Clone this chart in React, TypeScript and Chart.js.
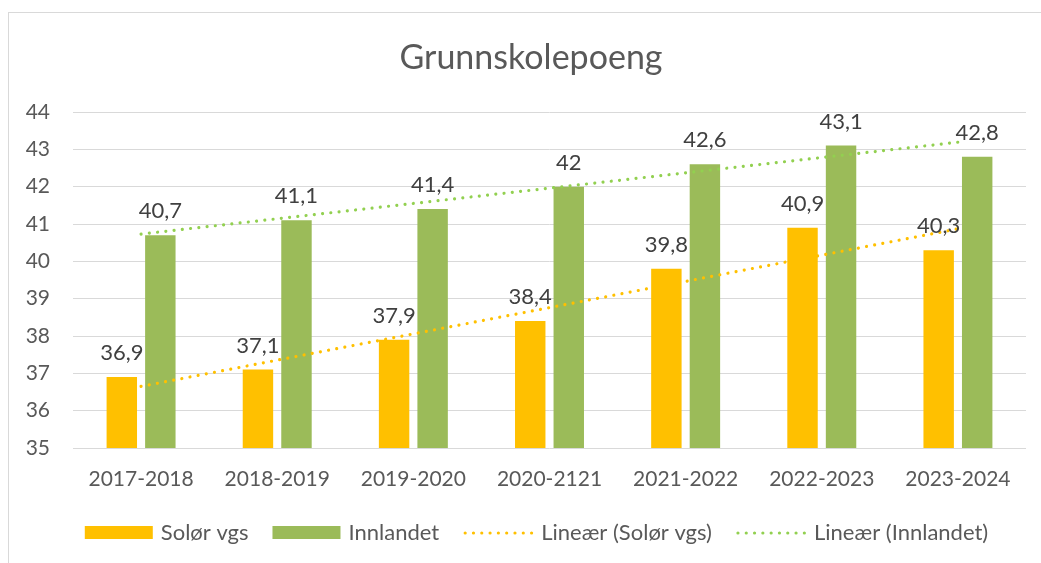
import { useEffect, useRef } from 'react';
import { Chart, registerables } from 'chart.js';

Chart.register(...registerables);

const chartTitle = 'Grunnskolepoeng';
const categories = ['2017-2018', '2018-2019', '2019-2020', '2020-2121', '2021-2022', '2022-2023', '2023-2024'];
const solorValues = [36.9, 37.1, 37.9, 38.4, 39.8, 40.9, 40.3];
const innlandetValues = [40.7, 41.1, 41.4, 42, 42.6, 43.1, 42.8];
// linear trend lines (start and end values)
const solorTrend = [36.65, null, null, null, null, null, 40.87];
const innlandetTrend = [40.73, null, null, null, null, null, 43.19];
const seriesNames = ['Solør vgs', 'Innlandet', 'Lineær (Solør vgs)', 'Lineær (Innlandet)'];
const yMin = 35;
const yMax = 44;

const YELLOW = '#FFC000';
const GREEN = '#9BBB59';
const TREND_YELLOW = '#FFC000';
const TREND_GREEN = '#92D050';
const TEXT = '#595959';
const LABEL = '#404040';
const FONT = 'Lato';
const DOT_DASH = [0.001, 8.3];

const framePlugin = {
  id: 'frame',
  beforeDraw(chart: any) {
    const ctx = chart.ctx;
    ctx.save();
    ctx.fillStyle = '#FFFFFF';
    ctx.fillRect(0, 0, chart.width, chart.height);
    ctx.strokeStyle = '#D9D9D9';
    ctx.lineWidth = 1;
    ctx.strokeRect(8.5, 12.5, chart.width + 20, chart.height + 20);
    ctx.restore();
  },
  afterDraw(chart: any) {
    const ctx = chart.ctx;
    ctx.save();
    ctx.fillStyle = TEXT;
    ctx.font = `34px ${FONT}`;
    ctx.textAlign = 'center';
    ctx.textBaseline = 'alphabetic';
    ctx.fillText(chartTitle, 531, 69);
    ctx.restore();
  },
};

const dataLabelPlugin = {
  id: 'dataLabels',
  afterDatasetsDraw(chart: any) {
    const ctx = chart.ctx;
    ctx.save();
    ctx.font = `22px ${FONT}`;
    ctx.fillStyle = LABEL;
    ctx.textAlign = 'center';
    ctx.textBaseline = 'alphabetic';
    chart.data.datasets.forEach((ds: any, i: number) => {
      if (ds.type !== 'bar') return;
      const meta = chart.getDatasetMeta(i);
      meta.data.forEach((el: any, j: number) => {
        const v = ds.data[j];
        ctx.fillText(String(v).replace('.', ','), el.x, el.y - 17);
      });
    });
    ctx.restore();
  },
};

const legendPlugin = {
  id: 'customLegend',
  afterDraw(chart: any) {
    const ctx = chart.ctx;
    ctx.save();
    ctx.font = `22px ${FONT}`;
    ctx.textBaseline = 'alphabetic';
    ctx.textAlign = 'left';
    const datasets = chart.data.datasets;
    const boxW = 68;
    const lineW = 70;
    const gapAfterSymbol = 8;
    const gapBetween = 24;
    const items = datasets.map((ds: any) => {
      const symW = ds.type === 'bar' ? boxW : lineW;
      const tw = ctx.measureText(ds.label).width;
      return { ds, symW, tw, w: symW + gapAfterSymbol + tw };
    });
    const total = items.reduce((s: number, it: any) => s + it.w, 0) + gapBetween * (items.length - 1);
    let x = 536.5 - total / 2;
    const baseline = 540;
    items.forEach((it: any) => {
      if (it.ds.type === 'bar') {
        ctx.fillStyle = it.ds.backgroundColor;
        ctx.fillRect(x, 526, boxW, 13);
      } else {
        ctx.strokeStyle = it.ds.borderColor;
        ctx.lineWidth = it.ds.borderWidth;
        ctx.lineCap = 'round';
        ctx.setLineDash(DOT_DASH);
        ctx.beginPath();
        ctx.moveTo(x + 2, 533);
        ctx.lineTo(x + lineW, 533);
        ctx.stroke();
        ctx.setLineDash([]);
      }
      ctx.fillStyle = TEXT;
      ctx.fillText(it.ds.label, x + it.symW + gapAfterSymbol, baseline);
      x += it.w + gapBetween;
    });
    ctx.restore();
  },
};

export default function App() {
  const canvasRef = useRef<HTMLCanvasElement | null>(null);

  useEffect(() => {
    document.body.style.margin = '0';
    let chart: Chart | null = null;
    let cancelled = false;
    const make = () => {
      if (cancelled || !canvasRef.current) return;
      Chart.defaults.font.family = FONT;
      chart = new Chart(canvasRef.current, {
        type: 'bar',
        data: {
          labels: categories,
          datasets: [
            {
              type: 'bar',
              label: seriesNames[0],
              data: solorValues,
              backgroundColor: YELLOW,
              categoryPercentage: 0.566,
              barPercentage: 0.79,
              order: 1,
            } as any,
            {
              type: 'bar',
              label: seriesNames[1],
              data: innlandetValues,
              backgroundColor: GREEN,
              categoryPercentage: 0.566,
              barPercentage: 0.79,
              order: 1,
            } as any,
            {
              type: 'line',
              label: seriesNames[2],
              data: solorTrend,
              borderColor: TREND_YELLOW,
              backgroundColor: TREND_YELLOW,
              borderWidth: 3.2,
              borderDash: DOT_DASH,
              borderCapStyle: 'round',
              pointRadius: 0,
              spanGaps: true,
              fill: false,
              order: 0,
            } as any,
            {
              type: 'line',
              label: seriesNames[3],
              data: innlandetTrend,
              borderColor: TREND_GREEN,
              backgroundColor: TREND_GREEN,
              borderWidth: 3.2,
              borderDash: DOT_DASH,
              borderCapStyle: 'round',
              pointRadius: 0,
              spanGaps: true,
              fill: false,
              order: 0,
            } as any,
          ],
        },
        options: {
          responsive: false,
          animation: false,
          layout: { padding: { top: 112, right: 15, bottom: 65, left: 0 } },
          plugins: {
            legend: { display: false },
            title: { display: false },
            tooltip: { enabled: false },
          },
          scales: {
            x: {
              grid: { display: false, drawTicks: false },
              border: { display: false },
              ticks: { color: TEXT, font: { size: 21, family: FONT }, padding: 19, maxRotation: 0 },
              afterFit: (scale: any) => {
                scale.height = 50;
              },
            },
            y: {
              min: yMin,
              max: yMax,
              grid: { color: '#D9D9D9', lineWidth: 1, drawTicks: false },
              border: { display: false },
              ticks: { stepSize: 1, color: TEXT, font: { size: 21, family: FONT }, padding: 23 },
              afterFit: (scale: any) => {
                scale.width = 73;
              },
            },
          },
        },
        plugins: [framePlugin, dataLabelPlugin, legendPlugin],
      });
    };
    const fontsReady = (document as any).fonts
      ? Promise.all([
          (document as any).fonts.load(`21px ${FONT}`),
          (document as any).fonts.load(`34px ${FONT}`),
        ]).catch(() => null)
      : Promise.resolve(null);
    fontsReady.then(make);
    return () => {
      cancelled = true;
      if (chart) chart.destroy();
    };
  }, []);

  return (
    <div style={{ width: 1041, height: 563 }}>
      <canvas ref={canvasRef} width={1041} height={563} />
    </div>
  );
}
